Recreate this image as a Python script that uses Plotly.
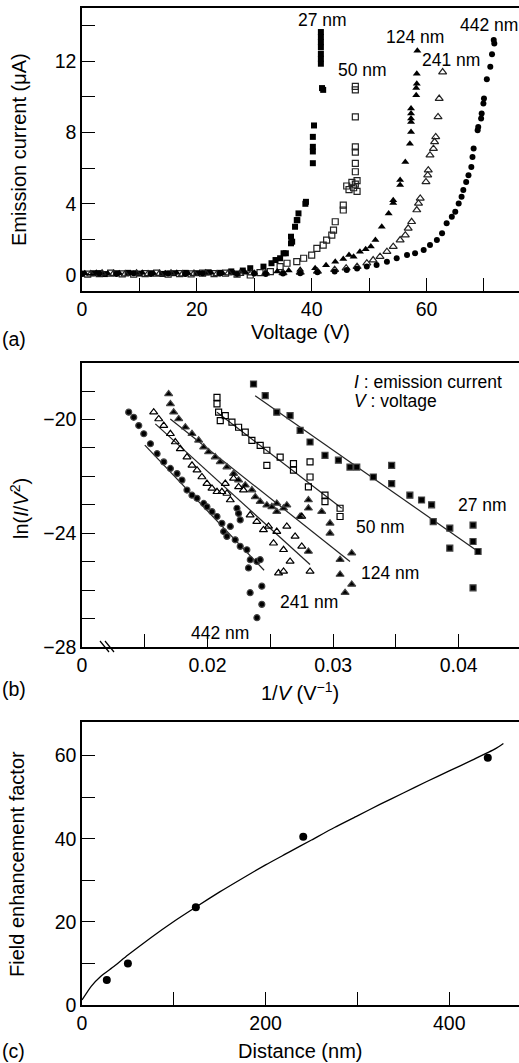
import plotly.graph_objects as go

# ---------------- Panel (a): emission current vs voltage ----------------
a27_v = [0, 2, 4, 6, 8, 10, 12, 14, 16, 18, 20, 22, 24, 26, 28,
         29.3, 31.6, 33.0, 33.7, 34.5, 35.1, 35.5, 36.4, 36.4, 36.6,
         37.1, 37.4, 37.5, 37.7, 38.9, 39.0, 40.2, 40.2, 40.2, 40.2,
         40.4, 41.6, 41.6, 41.6, 41.6, 41.6, 41.6, 41.6, 41.8, 42.0]
a27_i = [0.08, 0.1, 0.05, 0.1, 0.12, 0.08, 0.1, 0.06, 0.1, 0.12, 0.1, 0.15, 0.12, 0.2, 0.25,
         0.38, 0.47, 0.66, 0.84, 0.94, 1.22, 1.22, 1.78, 2.15, 1.87,
         2.71, 3.08, 3.08, 3.46, 4.0, 4.11, 6.28, 6.94, 7.2, 7.76,
         8.4, 11.87, 12.15, 12.43, 12.8, 13.08, 13.37, 13.65, 10.5, 10.4]

a50_v = [1, 3, 5, 7, 9, 11, 13, 15, 17, 19, 21, 23, 25, 27,
         29.3, 31.0, 32.8, 34.5, 35.7, 37.4, 38.6, 40.0, 40.9, 42.0,
         42.6, 43.5, 43.8, 44.1, 45.5, 45.5, 46.1, 46.5, 47.0, 47.3,
         47.6, 47.9, 47.9, 47.6, 47.6, 47.6, 47.6, 47.6, 47.6, 47.6]
a50_i = [0.05, 0.08, 0.1, 0.06, 0.05, 0.08, 0.1, 0.05, 0.08, 0.06, 0.1, 0.08, 0.1, 0.05,
         0.0, 0.13, 0.19, 0.47, 0.66, 0.75, 0.94, 1.12, 1.5, 1.68,
         1.96, 2.24, 2.52, 2.99, 3.65, 3.93, 5.0, 4.8, 5.2, 4.9,
         5.1, 4.7, 5.3, 5.8, 6.27, 6.9, 7.2, 8.88, 10.4, 10.6]

a124_v = [0.5, 2.5, 4.5, 6.5, 8.5, 10.5, 12.5, 14.5, 16.5, 18.5, 20.5, 22.5, 24.5, 26.5, 28.5,
          30, 32, 34, 36, 38, 40.6, 42.5, 44.1, 45.5, 46.5,
          47.3, 48.4, 49.4, 50.3, 51.1, 52.2, 53.4, 54.2, 54.2, 55.4,
          55.4, 56.3, 57.1, 57.3, 57.3, 57.3, 57.3, 57.3, 58.2, 58.2,
          58.3, 58.3, 58.4]
a124_i = [0.1, 0.12, 0.08, 0.1, 0.1, 0.12, 0.08, 0.1, 0.12, 0.1, 0.08, 0.12, 0.1, 0.1, 0.12,
          0.12, 0.15, 0.2, 0.25, 0.3, 0.38, 0.55, 0.75, 0.9, 1.12,
          1.03, 1.31, 1.45, 1.6, 1.96, 2.71, 3.46, 4.04, 4.2, 5.05,
          5.33, 6.35, 7.38, 8.04, 8.6, 8.79, 9.07, 9.35, 10.1, 10.5,
          10.75, 11.3, 12.6]

a241_v = [1.5, 3.5, 5.5, 7.5, 9.5, 11.5, 13.5, 15.5, 17.5, 19.5, 21.5, 23.5, 25.5, 27.5, 29.5,
          32, 35, 38, 41, 44, 46, 47.9, 49.6, 50.7, 51.9,
          53.1, 54.2, 55.4, 56.3, 56.8, 57.4, 58.3, 58.6, 58.9, 59.9,
          60.2, 60.3, 60.6, 61.2, 61.4, 61.6, 62.0, 62.2, 62.8]
a241_i = [0.05, 0.1, 0.08, 0.05, 0.1, 0.06, 0.08, 0.1, 0.05, 0.08, 0.1, 0.06, 0.1, 0.08, 0.1,
          0.1, 0.12, 0.15, 0.2, 0.3, 0.38, 0.47, 0.66, 0.84, 1.03,
          1.31, 1.59, 1.96, 2.24, 2.62, 2.99, 3.65, 4.02, 4.3, 5.23,
          5.61, 5.89, 6.73, 7.1, 7.48, 7.76, 8.88, 9.91, 11.4]

a442_v = [0, 3, 6, 9, 12, 15, 18, 21, 24, 27, 30,
          32, 35, 38, 41, 44, 46.1, 47.9, 49.6, 51.3, 53.1,
          54.8, 56.6, 58.0, 59.5, 60.6, 61.8, 62.7, 63.5, 64.4, 65.0,
          65.6, 66.1, 66.4, 66.9, 67.3, 67.8, 68.0, 68.2, 68.9, 69.0,
          69.5, 69.6, 69.9, 70.0, 70.5, 71.1, 71.4, 71.7, 71.8]
a442_i = [0.05, 0.08, 0.05, 0.1, 0.06, 0.08, 0.05, 0.1, 0.08, 0.06, 0.08,
          0.05, 0.08, 0.1, 0.15, 0.2, 0.28, 0.37, 0.47, 0.56, 0.75,
          0.94, 1.12, 1.22, 1.4, 1.68, 1.96, 2.34, 2.9, 3.27, 3.55,
          4.02, 4.39, 4.77, 5.23, 5.61, 6.07, 6.63, 7.1, 8.13, 8.32,
          8.79, 9.07, 9.63, 9.91, 11.0, 11.7, 12.4, 13.2, 13.0]

# ---------------- Panel (b): Fowler-Nordheim plot ----------------
b27_x = [0.02366, 0.02459, 0.02551, 0.02657, 0.02737, 0.02816, 0.02935, 0.03042, 0.03134,
         0.03188, 0.0332, 0.03466, 0.03466, 0.03611, 0.03704, 0.03784, 0.03797, 0.03929,
         0.03929, 0.04114, 0.04114, 0.04154, 0.04114]
b27_y = [-18.75, -19.16, -19.74, -19.86, -20.38, -20.79, -21.26, -21.43, -21.67,
         -21.67, -22.02, -21.61, -22.25, -22.66, -22.83, -23.0, -23.59, -23.82,
         -24.52, -23.71, -24.29, -24.64, -25.92]
b27_fit_x = [0.02379, 0.04154]
b27_fit_y = [-19.16, -24.64]

b50_x = [0.02075, 0.02075, 0.02088, 0.02101, 0.02141, 0.02194, 0.02247, 0.023, 0.02353,
         0.02419, 0.02472, 0.02578, 0.02472, 0.02684, 0.02684, 0.02816, 0.02816, 0.02803,
         0.02935, 0.02935, 0.03055, 0.03055]
b50_y = [-19.22, -19.45, -19.74, -20.04, -19.86, -20.09, -20.27, -20.44, -20.73,
         -20.91, -21.08, -21.32, -21.61, -21.55, -21.78, -21.49, -22.02, -22.37,
         -22.66, -22.89, -23.12, -23.41]
b50_fit_x = [0.02075, 0.03068]
b50_fit_y = [-19.74, -23.12]

b124_x = [0.0169, 0.01704, 0.0173, 0.0177, 0.01823, 0.01876, 0.01929, 0.01969, 0.02008,
          0.02061, 0.02101, 0.02154, 0.02207, 0.02247, 0.023, 0.02353, 0.0238, 0.02419,
          0.02472, 0.02512, 0.02551, 0.02605, 0.02631, 0.02551, 0.02737, 0.02803, 0.02803,
          0.02909, 0.02975, 0.02975, 0.03055, 0.03148, 0.03055, 0.02803, 0.03148, 0.03095]
b124_y = [-19.1, -19.45, -19.74, -19.98, -20.27, -20.5, -20.73, -20.97, -21.14,
          -21.32, -21.49, -21.67, -21.9, -22.13, -22.31, -22.48, -22.72, -22.89,
          -23.01, -23.07, -22.95, -23.12, -23.01, -23.24, -23.41, -23.12, -22.83,
          -23.24, -23.65, -24.0, -24.93, -24.7, -25.45, -24.64, -25.8, -26.09]
b124_fit_x = [0.01703, 0.03134]
b124_fit_y = [-19.98, -24.99]

b241_x = [0.01571, 0.01611, 0.01651, 0.01704, 0.01743, 0.01783, 0.01836, 0.01876, 0.01916,
          0.01955, 0.01995, 0.02035, 0.02075, 0.02114, 0.02154, 0.02141, 0.02207, 0.02247,
          0.02286, 0.02181, 0.02339, 0.02392, 0.02445, 0.02485, 0.02551, 0.02631, 0.02697,
          0.0275, 0.02525, 0.02605, 0.02657, 0.02565, 0.02605, 0.02816, 0.0275]
b241_y = [-19.74, -19.98, -20.21, -20.5, -20.79, -21.03, -21.32, -21.61, -21.78,
          -22.02, -22.25, -22.42, -22.54, -22.54, -22.6, -22.25, -22.07, -22.37,
          -22.48, -22.83, -23.36, -23.59, -23.88, -23.76, -23.94, -23.76, -24.11,
          -24.46, -24.35, -24.58, -24.99, -25.4, -25.34, -25.34, -23.41]
b241_fit_x = [0.01584, 0.02816]
b241_fit_y = [-20.15, -25.1]

b442_x = [0.01372, 0.01412, 0.01452, 0.01492, 0.01545, 0.01598, 0.01651, 0.01704, 0.01757,
          0.01796, 0.01836, 0.01876, 0.01916, 0.01969, 0.01995, 0.02035, 0.02075, 0.02114,
          0.02128, 0.02154, 0.02181, 0.02234, 0.02247, 0.0226, 0.0222, 0.0226, 0.02313,
          0.0234, 0.02393, 0.02419, 0.02326, 0.02339, 0.02432, 0.02432, 0.02393]
b442_y = [-19.74, -19.92, -20.21, -20.5, -20.85, -21.2, -21.49, -21.72, -21.9,
          -22.13, -22.48, -22.66, -22.77, -22.95, -23.07, -23.24, -23.41, -23.65,
          -23.94, -24.11, -23.76, -23.12, -23.3, -23.53, -24.23, -24.46, -24.58,
          -24.93, -24.99, -24.93, -25.22, -26.09, -25.86, -26.5, -26.97]
b442_fit_x = [0.0150, 0.0245]
b442_fit_y = [-20.9, -25.3]

# ---------------- Panel (c): field enhancement factor ----------------
c_dist = [27, 50, 124, 241, 442]
c_beta = [6, 10, 23.5, 40.5, 59.5]
c_fit_x = [0, 10, 20, 35, 50, 75, 100, 125, 150, 175, 200, 225, 250, 275, 300,
           325, 350, 375, 400, 425, 450, 459]
c_fit_y = [1.2, 4.5, 6.8, 9.3, 12.0, 16.2, 20.1, 23.7, 27.2, 30.5, 33.7, 36.7, 39.7,
           42.7, 45.5, 48.3, 51.0, 53.7, 56.3, 58.9, 61.6, 62.9]

FONT = "Liberation Sans, Arial, Helvetica, sans-serif"
W, H = 519, 1063


def py(p):
    return 1 - p / H


def px(p):
    return p / W


fig = go.Figure()

# panel a
fig.add_trace(go.Scatter(x=a27_v, y=a27_i, mode="markers", xaxis="x", yaxis="y",
                         marker=dict(symbol="square", size=6, color="black")))
fig.add_trace(go.Scatter(x=a50_v, y=a50_i, mode="markers", xaxis="x", yaxis="y",
                         marker=dict(symbol="square-open", size=6, color="#222",
                                     line=dict(width=1.2))))
fig.add_trace(go.Scatter(x=a124_v, y=a124_i, mode="markers", xaxis="x", yaxis="y",
                         marker=dict(symbol="triangle-up", size=7, color="black")))
fig.add_trace(go.Scatter(x=a241_v, y=a241_i, mode="markers", xaxis="x", yaxis="y",
                         marker=dict(symbol="triangle-up-open", size=7, color="#222",
                                     line=dict(width=1.2))))
fig.add_trace(go.Scatter(x=a442_v, y=a442_i, mode="markers", xaxis="x", yaxis="y",
                         marker=dict(symbol="circle", size=6, color="black")))

# panel b
series_b = [
    (b27_x, b27_y, b27_fit_x, b27_fit_y, "square", 6),
    (b50_x, b50_y, b50_fit_x, b50_fit_y, "square-open", 6),
    (b124_x, b124_y, b124_fit_x, b124_fit_y, "triangle-up", 7),
    (b241_x, b241_y, b241_fit_x, b241_fit_y, "triangle-up-open", 7),
    (b442_x, b442_y, b442_fit_x, b442_fit_y, "circle", 6),
]
for xs, ys, fx, fy, sym, sz in series_b:
    fig.add_trace(go.Scatter(x=fx, y=fy, mode="lines", xaxis="x2", yaxis="y2",
                             line=dict(color="#222", width=1.2)))
    fig.add_trace(go.Scatter(x=xs, y=ys, mode="markers", xaxis="x2", yaxis="y2",
                             marker=dict(symbol=sym, size=sz, color="black",
                                         line=dict(width=1.2))))

# panel c
fig.add_trace(go.Scatter(x=c_fit_x, y=c_fit_y, mode="lines", xaxis="x3", yaxis="y3",
                         line=dict(color="black", width=1.3, shape="spline", smoothing=0.6)))
fig.add_trace(go.Scatter(x=c_dist, y=c_beta, mode="markers", xaxis="x3", yaxis="y3",
                         marker=dict(symbol="circle", size=8, color="black")))

tickfont = dict(family=FONT, size=19.5, color="black")
minor_style = dict(ticks="inside", ticklen=13, tickwidth=1.3, tickcolor="black", showgrid=False)

common_x = dict(showline=True, linecolor="black", linewidth=1.5, mirror=True,
                ticks="inside", ticklen=13, tickwidth=1.3, tickcolor="black",
                showgrid=False, zeroline=False, tickfont=tickfont, automargin=False,
                tickmode="array")
common_y = dict(showline=True, linecolor="black", linewidth=1.5, mirror=False,
                ticks="inside", ticklen=13, tickwidth=1.3, tickcolor="black",
                showgrid=False, zeroline=False, tickfont=tickfont, automargin=False,
                tickmode="array")

fig.update_layout(
    width=W, height=H, margin=dict(l=0, r=0, t=0, b=0),
    paper_bgcolor="white", plot_bgcolor="white", showlegend=False,
    font=dict(family=FONT, color="black"),
    xaxis=dict(**common_x, domain=[px(82), 1], anchor="y", range=[0, 76.1],
               tickvals=[0, 20, 40, 60], ticktext=["0", "20", "40", "60"],
               minor=dict(**minor_style, tickmode="array", tickvals=[10, 30, 50, 70])),
    yaxis=dict(**common_y, domain=[py(291), py(8)], anchor="x", range=[-0.9, 15],
               tickvals=[0, 4, 8, 12], ticktext=["0", "4", "8", "12"],
               minor=dict(**minor_style, tickmode="array", tickvals=[2, 6, 10, 14])),
    xaxis2=dict(**common_x, domain=[px(82), 1], anchor="y2", range=[0.01, 0.0448],
                tickvals=[0.01, 0.02, 0.03, 0.04],
                ticktext=["0", "0.02", "0.03", "0.04"],
                minor=dict(**minor_style, tickmode="array",
                           tickvals=[0.015, 0.025, 0.035])),
    yaxis2=dict(**common_y, domain=[py(647), py(362.7)], anchor="x2", range=[-28, -18],
                tickvals=[-28, -24, -20], ticktext=["−28", "−24", "−20"],
                minor=dict(**minor_style, tickmode="array",
                           tickvals=[-27, -26, -25, -23, -22, -21, -19])),
    xaxis3=dict(**common_x, domain=[px(82), 1], anchor="y3", range=[0, 476],
                tickvals=[0, 200, 400], ticktext=["0", "200", "400"],
                minor=dict(**minor_style, tickmode="array", tickvals=[100, 300])),
    yaxis3=dict(**common_y, domain=[py(1005), py(722.3)], anchor="x3", range=[0, 68],
                tickvals=[0, 20, 40, 60], ticktext=["0", "20", "40", "60"],
                minor=dict(**minor_style, tickmode="array", tickvals=[10, 30, 50])),
)

title_font = dict(family=FONT, size=20, color="black")
# axis titles (placed as text in paper coordinates)
axis_titles = [
    dict(x=300, y=332, text="Voltage (V)", angle=0),
    dict(x=300, y=691, text="1/<i>V</i> (V<sup>−1</sup>)", angle=0),
    dict(x=300, y=1051, text="Distance (nm)", angle=0),
    dict(x=19, y=150, text="Emission current (μA)", angle=-90),
    dict(x=19, y=509, text="ln(<i>I</i>/<i>V</i><sup>2</sup>)", angle=-90),
    dict(x=17, y=864, text="Field enhancement factor", angle=-90),
]
for a in axis_titles:
    fig.add_annotation(x=px(a["x"]), y=py(a["y"]), xref="paper", yref="paper",
                       text=a["text"], textangle=a["angle"], showarrow=False,
                       font=title_font, xanchor="center", yanchor="middle")

ann_font = dict(family=FONT, size=17.5, color="black")
annotations = [
    # panel a labels
    dict(x=322, y=20, text="27 nm"),
    dict(x=362, y=70, text="50 nm"),
    dict(x=415, y=37, text="124 nm"),
    dict(x=451, y=60, text="241 nm"),
    dict(x=489, y=25, text="442 nm"),
    # panel b labels
    dict(x=482, y=505, text="27 nm"),
    dict(x=380, y=527, text="50 nm"),
    dict(x=390, y=573, text="124 nm"),
    dict(x=309, y=602, text="241 nm"),
    dict(x=220, y=633, text="442 nm"),
]
for a in annotations:
    fig.add_annotation(x=px(a["x"]), y=py(a["y"]), xref="paper", yref="paper",
                       text=a["text"], showarrow=False, font=ann_font,
                       xanchor="center", yanchor="middle")

fig.add_annotation(x=px(352), y=py(382), xref="paper", yref="paper",
                   text="<i>I</i> : emission current", showarrow=False, font=ann_font,
                   xanchor="left", yanchor="middle")
fig.add_annotation(x=px(352), y=py(401), xref="paper", yref="paper",
                   text="<i>V</i> : voltage", showarrow=False, font=ann_font,
                   xanchor="left", yanchor="middle")

for lab, yy in [("(a)", 339), ("(b)", 689), ("(c)", 1051)]:
    fig.add_annotation(x=0, y=py(yy), xref="paper", yref="paper", text=lab,
                       showarrow=False, font=dict(family=FONT, size=19.5, color="black"),
                       xanchor="left", yanchor="middle")

# axis-break marks on the (b) x axis
for x0 in (100, 105):
    fig.add_shape(type="line", xref="paper", yref="paper",
                  x0=px(x0), y0=py(641), x1=px(x0 + 9), y1=py(652),
                  line=dict(color="black", width=1.2))

fig.write_html("out.html", config={"displayModeBar": False},
               post_script="document.body.style.margin='0';document.body.style.padding='0';")
